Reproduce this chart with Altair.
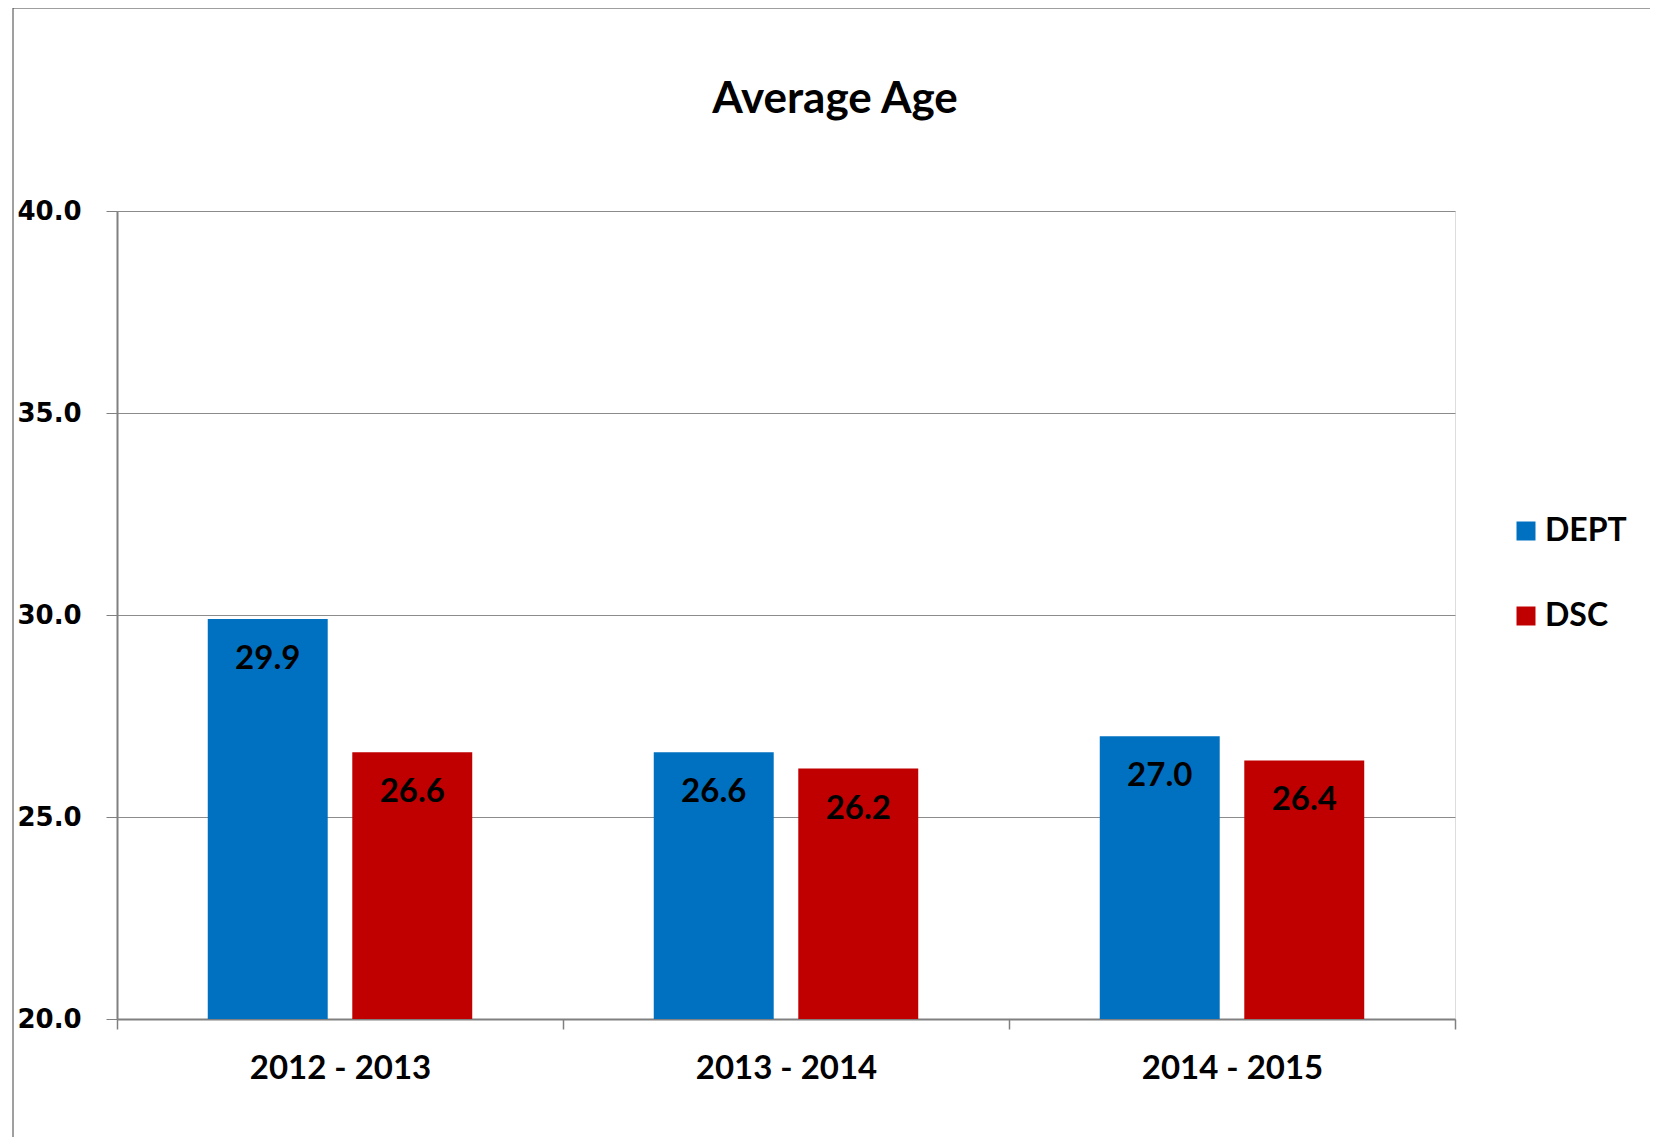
import altair as alt
import pandas as pd

years = ["2012 - 2013", "2013 - 2014", "2014 - 2015"]
series = ["DEPT", "DSC"]
dept = [29.9, 26.6, 27.0]
dsc = [26.6, 26.2, 26.4]
colors = ["#0070C0", "#C00000"]
y_ticks = [20, 25, 30, 35, 40]

rows = []
for i, yr in enumerate(years):
    rows.append({"year": yr, "series": "DEPT", "value": dept[i], "base": 20})
    rows.append({"year": yr, "series": "DSC", "value": dsc[i], "base": 20})
df = pd.DataFrame(rows)

x_enc = alt.X(
    "year:N", sort=years,
    scale=alt.Scale(paddingInner=0, paddingOuter=0),
    axis=alt.Axis(
        title=None, labelAngle=0, tickBand="extent", grid=False, labelLimit=0,
        labelFont="Lato", labelFontWeight="bold", labelFontSize=33, labelColor="black",
        labelPadding=23, tickSize=10, tickColor="#808080", tickWidth=1.5,
        domainColor="#808080", domainWidth=2,
    ),
)
xo_enc = alt.XOffset("series:N", sort=series,
                     scale=alt.Scale(paddingInner=0.17, paddingOuter=0.628))
y_enc = alt.Y(
    "value:Q",
    scale=alt.Scale(domain=[20, 40], nice=False, zero=False),
    axis=alt.Axis(
        title=None, values=y_ticks, format=".1f",
        labelFont="DejaVu Sans", labelFontWeight="bold", labelFontSize=26,
        labelColor="black", labelAlign="left", labelBaseline="middle",
        labelPadding=89, tickSize=11, tickColor="#808080",
        domainColor="#808080", domainWidth=2,
        grid=True, gridColor="#8c8c8c", gridWidth=1,
    ),
)

base = alt.Chart(df)

bars = base.mark_bar().encode(
    x=x_enc,
    xOffset=xo_enc,
    y=y_enc,
    y2="base:Q",
    color=alt.Color(
        "series:N",
        scale=alt.Scale(domain=series, range=colors),
        legend=alt.Legend(
            title=None, orient="none", legendX=1393, legendY=304,
            symbolType="square", symbolSize=361, symbolStrokeWidth=0,
            labelFont="Lato", labelFontWeight="bold", labelFontSize=32,
            labelColor="black", labelOffset=3, rowPadding=53, padding=0,
        ),
    ),
)

labels = base.mark_text(
    baseline="middle", dy=40, font="Lato", fontWeight="bold", fontSize=33, color="black"
).encode(
    x=alt.X("year:N", sort=years),
    xOffset=alt.XOffset("series:N", sort=series),
    y=alt.Y("value:Q"),
    text=alt.Text("value:Q", format=".1f"),
)

frame_df = pd.DataFrame({"k": [0]})
frame_top = alt.Chart(frame_df).mark_rule(color="#404040", strokeWidth=1).encode(
    x=alt.value(-104), x2=alt.value(1560), y=alt.value(-203)
)
frame_left = alt.Chart(frame_df).mark_rule(color="#404040", strokeWidth=1).encode(
    x=alt.value(-104), y=alt.value(-203), y2=alt.value(1000)
)

chart = alt.layer(bars, labels, frame_top, frame_left).properties(
    width=1338,
    height=808,
    padding={"left": 109, "top": 203, "right": 195, "bottom": 118},
    autosize=alt.AutoSizeParams(type="none"),
    title=alt.Title(
        "Average Age", font="Lato", fontSize=44, fontWeight="bold", color="black",
        anchor="middle", dx=49, baseline="alphabetic", offset=-149,
    ),
).configure_view(stroke="#404040", strokeWidth=1.2).configure(background="white")

chart.save("out.html", embed_options={"renderer": "svg", "actions": False})
